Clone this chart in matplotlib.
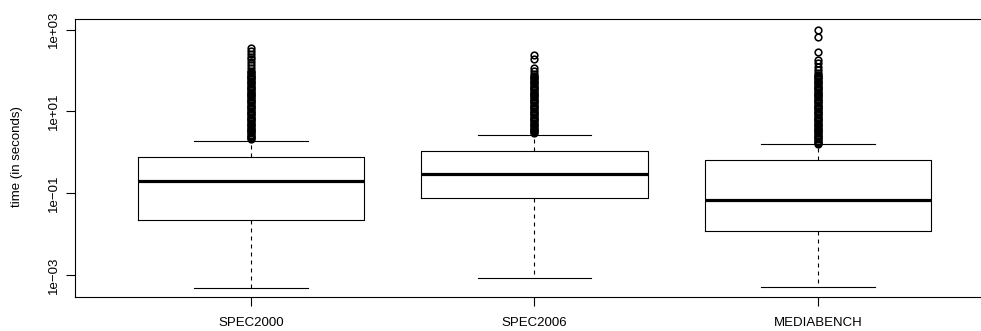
import matplotlib
matplotlib.use("Agg")
import matplotlib.pyplot as plt

categories = ["SPEC2000", "SPEC2006", "MEDIABENCH"]
whisker_low = [0.00049, 0.00087, 0.00050]
q1 = [0.0226, 0.075, 0.012]
median = [0.20, 0.304, 0.067]
q3 = [0.78, 1.11, 0.66]
whisker_high = [1.9, 2.6, 1.59]

outliers_spec2000 = [352, 302, 255, 219, 189, 162, 137, 116, 98, 92,
                     85, 79.4, 74.2, 69.4, 64.8, 60.6, 56.6, 52.9, 49.5, 46.2,
                     43.2, 40.4, 37.7, 35.3, 33.0, 30.8, 28.8, 26.9, 25.1, 23.5,
                     22.0, 20.5, 19.2, 17.9, 16.7, 15.7, 14.6, 13.7, 12.8, 11.9,
                     11.2, 10.4, 9.7, 9.1, 8.5, 8.0, 7.4, 6.9, 6.5, 6.1, 5.7,
                     5.3, 4.95, 4.6, 4.3, 4.05, 3.8, 3.5, 3.3, 3.1, 2.9, 2.7,
                     2.5, 2.35, 2.2, 2.1]
outliers_spec2006 = [241, 192, 114, 98, 83, 74, 69.4,
                     64.8, 60.6, 56.6, 52.9, 49.5, 46.2, 43.2, 40.4, 37.7, 35.3,
                     33.0, 30.8, 28.8, 26.9, 25.1, 23.5, 22.0, 20.5, 19.2, 17.9,
                     16.7, 15.7, 14.6, 13.7, 12.8, 11.9, 11.2, 10.4, 9.7, 9.1,
                     8.5, 8.0, 7.4, 6.9, 6.5, 6.1, 5.7, 5.3, 4.95, 4.6, 4.3,
                     4.05, 3.8, 3.5, 3.3, 3.1, 2.9]
outliers_mediabench = [989, 676, 281, 182, 151, 125, 103, 86, 79.4,
                       74.2, 69.4, 64.8, 60.6, 56.6, 52.9, 49.5, 46.2, 43.2, 40.4,
                       37.7, 35.3, 33.0, 30.8, 28.8, 26.9, 25.1, 23.5, 22.0, 20.5,
                       19.2, 17.9, 16.7, 15.7, 14.6, 13.7, 12.8, 11.9, 11.2, 10.4,
                       9.7, 9.1, 8.5, 8.0, 7.4, 6.9, 6.5, 6.1, 5.7, 5.3, 4.95,
                       4.6, 4.3, 4.05, 3.8, 3.5, 3.3, 3.1, 2.9, 2.7, 2.5, 2.35,
                       2.2, 2.1, 1.95, 1.8, 1.7, 1.65]
outliers = [outliers_spec2000, outliers_spec2006, outliers_mediabench]

ytick_values = [1e-3, 1e-1, 1e1, 1e3]
ytick_labels = ["1e\u221203", "1e\u221201", "1e+01", "1e+03"]
ylabel = "time (in seconds)"

plt.rcParams['font.family'] = ['Liberation Sans', 'DejaVu Sans']

W, H = 981, 331
fig = plt.figure(figsize=(W / 100, H / 100), dpi=100)
ax = fig.add_axes([75.2 / W, 1 - 296.7 / H, 918.6 / W, 277.4 / H])

stats = []
for i, name in enumerate(categories):
    stats.append(dict(label=name, whislo=whisker_low[i], q1=q1[i], med=median[i],
                      q3=q3[i], whishi=whisker_high[i], fliers=outliers[i]))

lw = 0.8
ax.bxp(stats, positions=[1, 2, 3], widths=0.8, capwidths=0.4,
       boxprops=dict(color='black', linewidth=lw),
       whiskerprops=dict(color='black', linewidth=lw, linestyle=(0, (3.6, 3.6))),
       capprops=dict(color='black', linewidth=lw),
       medianprops=dict(color='black', linewidth=2.3, solid_capstyle='butt'),
       flierprops=dict(marker='o', markerfacecolor='none', markeredgecolor='black',
                       markersize=4.8, markeredgewidth=1.15, linestyle='none'))

ax.set_yscale('log')
ax.set_ylim(10 ** -3.528, 10 ** 3.254)
ax.set_xlim(0.38, 3.62)
ax.minorticks_off()
ax.set_yticks(ytick_values)
ax.set_yticklabels(ytick_labels, rotation=90, va='center', fontsize=9.5)
ax.set_xticks([1, 2, 3])
ax.set_xticklabels(categories, fontsize=9.5)
ax.tick_params(axis='both', length=6.5, width=lw, color='black')
ax.tick_params(axis='y', pad=4.3)
ax.tick_params(axis='x', pad=8)
for s in ax.spines.values():
    s.set_linewidth(lw)
    s.set_color('black')
ax.spines['right'].set_visible(False)

fig.text(17.5 / W, 1 - 157 / H, ylabel, rotation=90, ha='center', va='center', fontsize=9.5)

fig.savefig("out.png", dpi=100)
